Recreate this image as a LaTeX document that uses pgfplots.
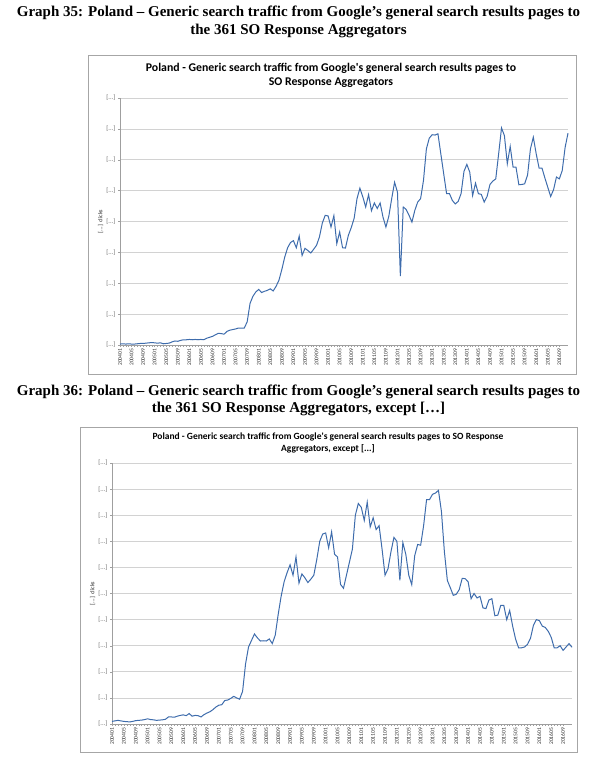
\documentclass[border=0pt]{standalone}
\usepackage{pgfplots}
\usepackage{pgfplotstable}
\pgfplotsset{compat=1.18}
\usepackage{fontspec}
\setmainfont{Liberation Serif}
\newfontfamily\calibri{Carlito}

\definecolor{xlblue}{RGB}{62,108,172}

\pgfplotstableread{
v
0.03
0.04
0.03
0.04
0.03
0.03
0.04
0.05
0.05
0.06
0.07
0.08
0.07
0.06
0.07
0.04
0.05
0.06
0.10
0.13
0.12
0.15
0.17
0.17
0.18
0.17
0.18
0.17
0.18
0.17
0.22
0.25
0.28
0.33
0.38
0.37
0.35
0.44
0.48
0.50
0.52
0.55
0.55
0.55
0.75
1.35
1.58
1.72
1.80
1.70
1.74
1.77
1.82
1.75
1.90
2.10
2.45
2.85
3.15
3.32
3.38
3.15
3.53
2.90
3.13
3.06
2.98
3.10
3.23
3.50
3.95
4.20
4.18
3.82
4.19
3.28
3.66
3.15
3.14
3.55
3.80
4.10
4.74
5.08
4.80
4.47
4.87
4.35
4.60
4.42
4.60
4.14
3.82
4.17
4.74
5.27
4.95
2.23
4.47
4.39
4.20
3.98
4.36
4.63
4.74
5.33
6.35
6.70
6.81
6.80
6.84
6.19
5.54
4.90
4.90
4.68
4.57
4.65
4.90
5.62
5.85
5.60
4.84
5.24
4.90
4.88
4.63
4.81
5.20
5.31
5.38
6.19
7.03
6.78
5.87
6.43
5.76
5.76
5.19
5.20
5.22
5.50
6.35
6.73
6.19
5.73
5.73
5.41
5.11
4.81
5.03
5.44
5.38
5.65
6.40
6.86
}\dataA

\pgfplotstableread{
v
0.10
0.12
0.14
0.12
0.10
0.09
0.08
0.10
0.13
0.14
0.15
0.17
0.20
0.17
0.16
0.14
0.15
0.16
0.18
0.27
0.27
0.26
0.30
0.33
0.35
0.32
0.40
0.30
0.33
0.32
0.27
0.36
0.42
0.47
0.55
0.65
0.72
0.74
0.90
0.92
0.98
1.06
1.00
0.95
1.25
2.30
2.95
3.20
3.45
3.30
3.18
3.19
3.18
3.26
3.08
3.40
4.20
4.90
5.45
5.80
6.10
5.70
6.40
5.40
5.75
5.60
5.42
5.55
5.70
6.30
7.00
7.28
7.32
6.75
7.36
6.50
6.40
5.35
5.20
5.70
6.20
6.70
8.00
8.45
8.30
7.80
8.50
7.55
7.90
7.45
7.60
6.70
5.70
5.95
6.60
7.15
7.00
5.50
6.95
6.50
5.70
5.34
6.45
6.88
6.85
7.60
8.60
8.60
8.80
8.85
8.95
8.15
6.60
5.50
5.22
4.93
4.97
5.15
5.58
5.57
5.45
4.80
5.00
4.83
4.89
4.45
4.42
4.75
4.80
4.15
4.17
4.55
4.55
4.00
4.35
3.75
3.25
2.92
2.92
2.95
3.05
3.28
3.78
4.00
3.96
3.75
3.70
3.55
3.32
2.92
2.92
3.00
2.82
2.95
3.08
2.94
}\dataB

\pgfplotsset{
  excel/.style={
    scale only axis,
    anchor=south west,
    xmin=0, xmax=155, ymin=0,
    axis x line*=bottom, axis y line*=left,
    axis line style={draw=gray!75, line width=0.5pt},
    ymajorgrids, grid style={draw=gray!35, line width=0.7pt},
    xtick={0,4,...,152},
    xticklabels={200401,200405,200409,200501,200505,200509,200601,200605,200609,200701,200705,200709,200801,200805,200809,200901,200905,200909,201001,201005,201009,201101,201105,201109,201201,201205,201209,201301,201305,201309,201401,201405,201409,201501,201505,201509,201601,201605,201609},
    minor x tick num=3,
    tick align=outside,
    major tick length=2pt, minor tick length=1.5pt,
    tick style={draw=gray!75, line width=0.4pt},
    x tick label style={rotate=90, anchor=east, font=\calibri\fontsize{5.6}{6}\selectfont, text=black!80, inner sep=1.5pt},
    y tick label style={font=\calibri\fontsize{6.5}{7}\selectfont, text=black!60, inner sep=2.5pt},
    yticklabel={[...]},
    ylabel={[...] clicks},
    ylabel style={font=\calibri\bfseries\fontsize{6}{7}\selectfont, text=black!60, yshift=-3pt},
    clip=false,
  }
}

\begin{document}
\begin{tikzpicture}
\useasboundingbox (0pt,0pt) rectangle (597pt,-762pt);

% outer titles
\node[font=\bfseries\fontsize{15}{17}\selectfont] at (298.5pt,-13pt) {Graph 35: Poland – Generic search traffic from Google's general search results pages to};
\node[font=\bfseries\fontsize{15}{17}\selectfont] at (298.5pt,-31pt) {the 361 SO Response Aggregators};

\node[font=\bfseries\fontsize{15}{17}\selectfont] at (298.5pt,-392pt) {Graph 36: Poland – Generic search traffic from Google's general search results pages to};
\node[font=\bfseries\fontsize{15}{17}\selectfont] at (298.5pt,-409pt) {the 361 SO Response Aggregators, except […]};

% chart 1 frame and title
\draw[draw=gray!70, line width=0.8pt] (88pt,-55pt) rectangle (576pt,-374pt);
\node[font=\calibri\bfseries\fontsize{11.8}{13}\selectfont] at (331pt,-68pt) {Poland - Generic search traffic from Google's general search results pages to};
\node[font=\calibri\bfseries\fontsize{11.8}{13}\selectfont] at (331pt,-83pt) {SO Response Aggregators};

\begin{axis}[excel, at={(120pt,-345pt)}, width=448pt, height=247pt, ymax=8, ytick={0,1,...,8}]
\addplot[xlblue, line width=1pt] table[x expr=\coordindex, y index=0] {\dataA};
\end{axis}

% chart 2 frame and title
\draw[draw=gray!70, line width=0.8pt] (80pt,-427pt) rectangle (577pt,-752pt);
\node[font=\calibri\bfseries\fontsize{9.5}{11}\selectfont] at (328pt,-437pt) {Poland - Generic search traffic from Google's general search results pages to SO Response};
\node[font=\calibri\bfseries\fontsize{9.5}{11}\selectfont] at (328pt,-449pt) {Aggregators, except [...]};

\begin{axis}[excel, at={(112pt,-724pt)}, width=460pt, height=261pt, ymax=10, ytick={0,1,...,10}]
\addplot[xlblue, line width=1pt] table[x expr=\coordindex, y index=0] {\dataB};
\end{axis}
\end{tikzpicture}
\end{document}
